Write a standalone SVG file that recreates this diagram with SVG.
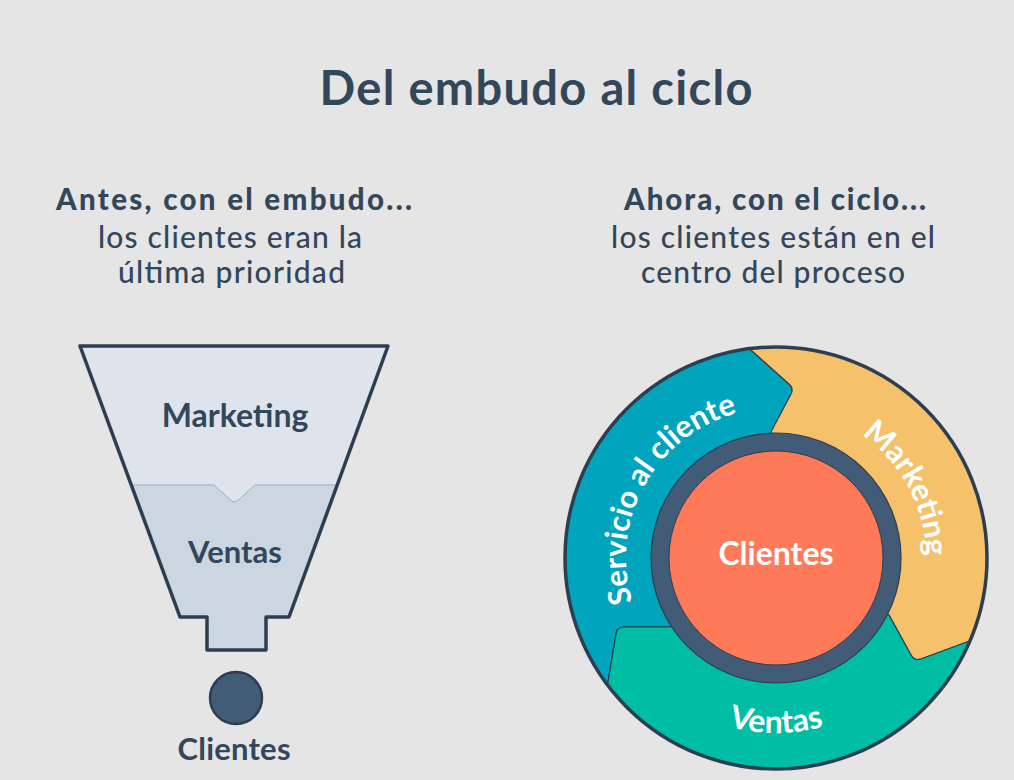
<svg xmlns="http://www.w3.org/2000/svg" width="1014" height="780" viewBox="0 0 1014 780">
<style>
.t{font-family:Lato,"Liberation Sans",sans-serif;fill:#33475b;text-anchor:middle}
.b{font-weight:700}
.k{font-weight:900}
.r{font-weight:500}
.w{font-family:Lato,"Liberation Sans",sans-serif;fill:#ffffff;font-weight:700;font-size:31px}
.seg{stroke:#2d3e50;stroke-width:1.2;stroke-linejoin:round}
</style>
<defs>
<clipPath id="ring"><circle cx="776" cy="558" r="211"/></clipPath>
<path id="pServ" d="M 647.4 635.3 A 150 150 0 0 1 773.4 408.0"/>
<path id="pMark" d="M 781.2 408.1 A 150 150 0 0 1 903.2 637.5"/>
<path id="pVent" d="M 624.4 645.5 A 175 175 0 0 0 927.6 645.5"/>
</defs>
<rect width="1014" height="780" fill="#e5e5e5"/>
<text class="t b" x="536" y="105" font-size="47" textLength="433">Del embudo al ciclo</text>
<g id="left-heading">
<text class="t k" x="234" y="210" font-size="29.5" textLength="356">Antes, con el embudo...</text>
<text class="t r" x="230" y="248" font-size="30" textLength="264">los clientes eran la</text>
<text class="t r" x="231.5" y="283" font-size="30" textLength="227">última prioridad</text>
</g>
<g id="right-heading">
<text class="t k" x="775" y="210" font-size="29.5" textLength="302">Ahora, con el ciclo...</text>
<text class="t r" x="773" y="248" font-size="30" textLength="324">los clientes están en el</text>
<text class="t r" x="773" y="283" font-size="30" textLength="264">centro del proceso</text>
</g>
<g id="funnel">
<path d="M 80 346 L 388 346 L 289 617 L 266 617 L 266 650 L 207 650 L 207 617 L 180 617 Z" fill="#cbd6e1"/>
<path d="M 80 346 L 388 346 L 337.2 485 L 255 485 L 239 499.5 Q 234.5 504 230 499.5 L 214 485 L 131.3 485 Z" fill="#dfe3eb"/>
<path d="M 131.3 485 L 214 485 L 230 499.5 Q 234.5 504 239 499.5 L 255 485 L 337.2 485" fill="none" stroke="#9eacbb" stroke-width="1"/>
<path d="M 80 346 L 388 346 L 289 617 L 266 617 L 266 650 L 207 650 L 207 617 L 180 617 Z" fill="none" stroke="#2d3e50" stroke-width="3.5" stroke-linejoin="round"/>
<text class="t b" x="235" y="427" font-size="32">Marketing</text>
<text class="t b" x="235" y="563" font-size="31">Ventas</text>
</g>
<g id="funnel-clientes">
<circle cx="236" cy="698" r="26" fill="#425b76" stroke="#2d3e50" stroke-width="2.5"/>
<text class="t b" x="234" y="760" font-size="31" textLength="113">Clientes</text>
</g>
<g id="cycle" clip-path="url(#ring)">
<g id="servicio">
<path class="seg" fill="#00a4bd" d="M 776 558 L 771.5 431 L 791 394 Q 794 388 789 384 L 733 334 L 560 330 L 550 760 L 600 720 L 608 682 L 616 634 Q 617 627 624 627 L 670 627 Z"/>
</g>
<g id="marketing">
<path class="seg" fill="#f5c26b" d="M 776 558 L 771.5 431 L 791 394 Q 794 388 789 384 L 733 334 L 1000 320 L 1010 630 L 1000 633 L 967 642 L 921 659 Q 914 661 911 655 L 889 615 Z"/>
</g>
<g id="ventas">
<path class="seg" fill="#00bda5" d="M 776 558 L 889 615 L 911 655 Q 914 661 921 659 L 967 642 L 1000 633 L 1010 800 L 560 800 L 600 720 L 608 682 L 616 634 Q 617 627 624 627 L 670 627 Z"/>
</g>
</g>
<circle cx="776" cy="558" r="211" fill="none" stroke="#2d3e50" stroke-width="3.5"/>
<g id="center-clientes">
<circle cx="776" cy="558" r="116" fill="#ff7a59" stroke="#425b76" stroke-width="18"/>
<circle cx="776" cy="558" r="125" fill="none" stroke="#2d3e50" stroke-width="1.2"/>
<circle cx="776" cy="558" r="107" fill="none" stroke="#2d3e50" stroke-width="1"/>
<text class="w" x="776" y="565" text-anchor="middle" style="font-size:32px">Clientes</text>
</g>
<g id="labels">
<text class="w"><textPath href="#pServ" startOffset="50%" text-anchor="middle">Servicio al cliente</textPath></text>
<text class="w"><textPath href="#pMark" startOffset="50%" text-anchor="middle">Marketing</textPath></text>
<text class="w" style="font-size:32px"><textPath href="#pVent" startOffset="50%" text-anchor="middle">Ventas</textPath></text>
</g>
</svg>
